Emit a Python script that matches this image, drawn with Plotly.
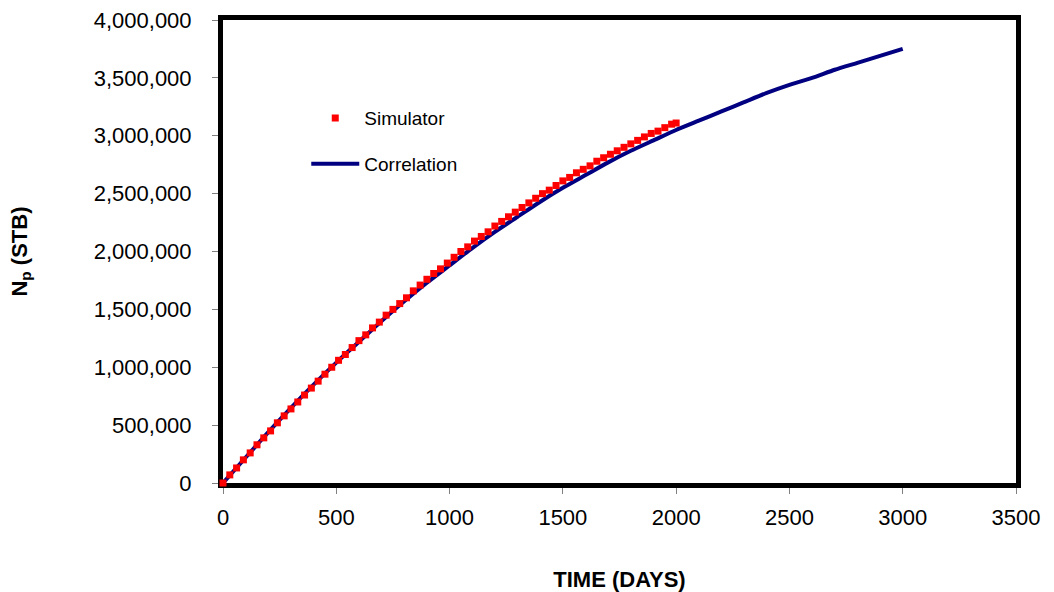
import plotly.graph_objects as go

# Correlation curve (days, STB)
corr_days = [0, 100, 200, 300, 400, 500, 600, 700, 800, 900, 1000, 1100, 1200, 1300, 1400,
             1500, 1600, 1700, 1800, 1900, 2000, 2100, 2200, 2300, 2400, 2500, 2600, 2700,
             2800, 2900, 3000]
corr_np = [0, 220000, 440000, 650000, 850000, 1040000, 1220000, 1400000, 1570000, 1730000,
           1880000, 2030000, 2170000, 2300000, 2430000, 2550000, 2660000, 2770000, 2870000,
           2960000, 3050000, 3130000, 3210000, 3290000, 3370000, 3440000, 3500000, 3570000,
           3630000, 3690000, 3750000]

# Simulator points (days, STB)
sim_days = [0, 30, 60, 90, 120, 150, 180, 210, 240, 270, 300, 330, 360, 390, 420, 450, 480,
            510, 540, 570, 600, 630, 660, 690, 720, 750, 780, 810, 840, 870, 900, 930, 960,
            990, 1020, 1050, 1080, 1110, 1140, 1170, 1200, 1230, 1260, 1290, 1320, 1350, 1380,
            1410, 1440, 1470, 1500, 1530, 1560, 1590, 1620, 1650, 1680, 1710, 1740, 1770,
            1800, 1830, 1860, 1890, 1920, 1950, 1980, 2000]
sim_np = [0, 70000, 130000, 200000, 260000, 330000, 390000, 450000, 520000, 580000, 640000,
          700000, 760000, 820000, 880000, 940000, 1000000, 1060000, 1110000, 1170000, 1230000,
          1280000, 1340000, 1390000, 1450000, 1500000, 1550000, 1600000, 1660000, 1710000,
          1760000, 1810000, 1850000, 1900000, 1950000, 2000000, 2040000, 2090000, 2130000,
          2170000, 2220000, 2260000, 2300000, 2340000, 2380000, 2420000, 2460000, 2500000,
          2530000, 2570000, 2610000, 2640000, 2680000, 2710000, 2740000, 2780000, 2810000,
          2840000, 2870000, 2900000, 2930000, 2960000, 2990000, 3020000, 3040000, 3070000,
          3100000, 3110000]

x_ticks = [0, 500, 1000, 1500, 2000, 2500, 3000, 3500]
y_ticks = [0, 500000, 1000000, 1500000, 2000000, 2500000, 3000000, 3500000, 4000000]

FONT = "Liberation Sans, Arial, sans-serif"

fig = go.Figure()
fig.add_trace(go.Scatter(
    x=corr_days, y=corr_np, mode="lines", name="Correlation",
    line=dict(color="#000080", width=4, shape="spline", smoothing=0.6),
    legendgroup="b", legendrank=2, cliponaxis=False,
))
fig.add_trace(go.Scatter(
    x=sim_days, y=sim_np, mode="markers", name="Simulator",
    marker=dict(color="#FF0000", size=7, symbol="square", line=dict(width=0)),
    legendgroup="a", legendrank=1, cliponaxis=False,
))

axis_common = dict(
    showgrid=False, zeroline=False, showline=True, linecolor="black", linewidth=5,
    mirror=True, ticks="outside", ticklen=6, tickwidth=1, tickcolor="#808080",
    tickfont=dict(family=FONT, size=22, color="black"), layer="below traces",
    automargin=False,
)

fig.update_layout(
    width=1054, height=592,
    margin=dict(l=223, r=38, t=20, b=109),
    paper_bgcolor="white", plot_bgcolor="white",
    font=dict(family=FONT, color="black"),
    xaxis=dict(range=[0, 3500], tickvals=x_ticks, ticktext=[str(v) for v in x_ticks],
               ticklabelstandoff=5,
               title=dict(text="<b>TIME (DAYS)</b>", font=dict(family=FONT, size=22), standoff=44),
               **axis_common),
    yaxis=dict(range=[0, 4000000], tickvals=y_ticks, tickformat=",d",
               ticklabelstandoff=16,
               title=dict(text="<b>N<sub>p</sub> (STB)</b>", font=dict(family=FONT, size=22), standoff=62),
               **axis_common),
    showlegend=True,
    legend=dict(x=0.105, y=0.829, xanchor="left", yanchor="top", bgcolor="rgba(0,0,0,0)",
                font=dict(family=FONT, size=19, color="black"), itemwidth=48,
                tracegroupgap=18),
)

fig.write_html("out.html", config={"displayModeBar": False},
               post_script="document.body.style.margin='0';document.body.style.overflow='hidden';")
